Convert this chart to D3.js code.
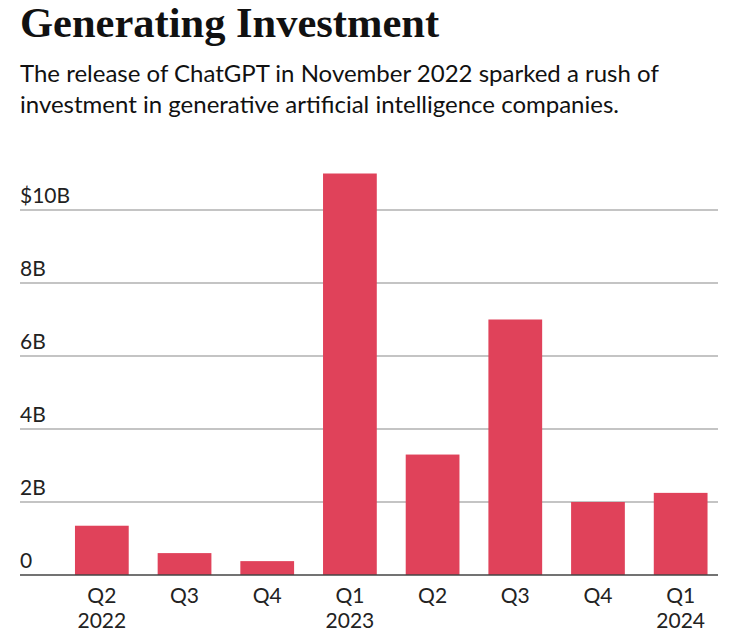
<!DOCTYPE html>
<html>
<head>
<meta charset="utf-8">
<script src="https://cdn.jsdelivr.net/npm/d3@7"></script>
<style>
  body { margin: 0; background: #fff; }
  text { font-family: Lato, "Open Sans", sans-serif; }
</style>
</head>
<body>
<div id="chart"></div>
<script>
// quarters and investment (billions of dollars)
const quarters = ["Q2", "Q3", "Q4", "Q1", "Q2", "Q3", "Q4", "Q1"];
const years = ["2022", "", "", "2023", "", "", "", "2024"];
const investment = [1.35, 0.6, 0.38, 11.0, 3.3, 7.0, 2.0, 2.25];
const yTicks = [0, 2, 4, 6, 8, 10];
const yTickLabels = ["0", "2B", "4B", "6B", "8B", "$10B"];

const width = 742, height = 644;
const svg = d3.select("#chart").append("svg")
  .attr("width", width)
  .attr("height", height);

// title + subtitle
svg.append("text")
  .attr("x", 20).attr("y", 37)
  .style("font-family", "'Liberation Serif', 'DejaVu Serif', serif")
  .style("font-weight", "bold")
  .style("font-size", "42.5px")
  .style("fill", "#111")
  .text("Generating Investment");

const sub = [
  "The release of ChatGPT in November 2022 sparked a rush of",
  "investment in generative artificial intelligence companies."
];
svg.selectAll(".sub")
  .data(sub)
  .enter().append("text")
  .attr("class", "sub")
  .attr("x", 20)
  .attr("y", (d, i) => 82 + i * 31)
  .style("font-size", "24px")
  .style("fill", "#111")
  .text(d => d);

// scales
const x = d3.scaleBand()
  .domain(d3.range(quarters.length))
  .range([60.5, 722])
  .paddingInner(0.35)
  .paddingOuter(0.175);

const y = d3.scaleLinear()
  .domain([0, 10])
  .range([575, 210]);

// gridlines
svg.selectAll(".grid")
  .data(yTicks.slice(1))
  .enter().append("line")
  .attr("class", "grid")
  .attr("x1", 20).attr("x2", 718)
  .attr("y1", d => y(d)).attr("y2", d => y(d))
  .style("stroke", "#8a8a8a")
  .style("stroke-width", 1.2);

// bars
svg.selectAll(".bar")
  .data(investment)
  .enter().append("rect")
  .attr("class", "bar")
  .attr("x", (d, i) => x(i))
  .attr("width", x.bandwidth())
  .attr("y", d => y(d))
  .attr("height", d => y(0) - y(d))
  .style("fill", "#e0425a");

// baseline
svg.append("line")
  .attr("x1", 20).attr("x2", 718)
  .attr("y1", y(0)).attr("y2", y(0))
  .style("stroke", "#444")
  .style("stroke-width", 1.6);

// y tick labels sit above their lines
svg.selectAll(".ylab")
  .data(yTicks)
  .enter().append("text")
  .attr("class", "ylab")
  .attr("x", 20)
  .attr("y", d => y(d) - 7)
  .style("font-size", "21px")
  .style("fill", "#222")
  .text((d, i) => yTickLabels[i]);

// x labels
const xl = svg.selectAll(".xlab")
  .data(quarters)
  .enter().append("text")
  .attr("class", "xlab")
  .attr("text-anchor", "middle")
  .style("font-size", "21px")
  .style("fill", "#222");
xl.append("tspan")
  .attr("x", (d, i) => x(i) + x.bandwidth() / 2)
  .attr("y", 603)
  .text(d => d);
xl.append("tspan")
  .attr("x", (d, i) => x(i) + x.bandwidth() / 2)
  .attr("y", 628)
  .text((d, i) => years[i]);
</script>
</body>
</html>
